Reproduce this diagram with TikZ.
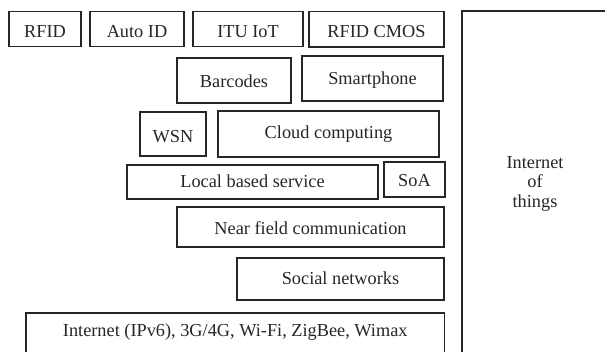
\documentclass[tikz,border=0pt]{standalone}
\usepackage{fontspec}
\setmainfont{Liberation Serif}
\begin{document}
\begin{tikzpicture}[x=1pt,y=-1pt,
  boxstyle/.style={draw=black!85,line width=1.3pt,inner sep=0pt},
  lbl/.style={anchor=base,inner sep=0pt,font=\fontsize{18.3}{19}\selectfont,text=black!85}]
\useasboundingbox (0,0) rectangle (605,352);
\clip (0,0) rectangle (605,352);
% helper: name, x1,y1,x2,y2, baseline, text
\newcommand{\bx}[7]{%
  \node[boxstyle,minimum width={#4-#2},minimum height={#5-#3}] (#1) at ({(#2+#4)/2},{(#3+#5)/2}) {};
  \node[lbl] (#1t) at ({(#2+#4)/2},{#6+1.5}) {#7};}
\bx{rfid}{9}{11.5}{81}{46.5}{36.5}{RFID}
\bx{autoid}{90}{11.5}{184}{46.5}{36.5}{Auto ID}
\bx{itu}{193}{11.5}{303}{46.5}{36.5}{ITU IoT}
\bx{cmos}{309}{11.5}{444}{47}{36.5}{RFID CMOS}
\bx{barcodes}{177}{58}{291}{103}{86.5}{Barcodes}
\bx{smart}{302}{56}{443}{101}{83}{Smartphone}
\bx{wsn}{140}{112}{206}{156}{141}{WSN}
\bx{cloud}{218}{111}{439}{157}{137}{Cloud computing}
\bx{lbs}{127}{165}{378}{199}{186.5}{Local based service}
\bx{soa}{384}{162}{445}{197}{185}{SoA}
\bx{nfc}{177}{207}{444}{247}{233.5}{Near field communication}
\bx{social}{237}{258}{444}{300}{283.5}{Social networks}
\bx{inet}{26}{313}{444.5}{372}{335}{Internet (IPv6), 3G/4G, Wi-Fi, ZigBee, Wimax}
\node[boxstyle,minimum width=180,minimum height=380] (iot) at (552,201) {};
\node[lbl,anchor=north,align=center,font=\fontsize{18.3}{19.5}\selectfont] (iott) at (535,156) {Internet\\of\\things};
\end{tikzpicture}
\end{document}
